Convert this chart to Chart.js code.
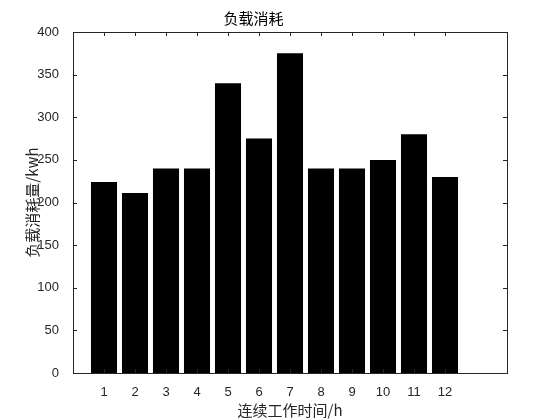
<!DOCTYPE html>
<html>
<head>
<meta charset="utf-8">
<script src="https://cdn.jsdelivr.net/npm/chart.js@4/dist/chart.umd.min.js"></script>
<style>
  html, body { margin: 0; padding: 0; background: #fff; }
  #wrap { width: 560px; height: 420px; }
</style>
</head>
<body>
<div id="wrap"><canvas id="myChart"></canvas></div>
<script>
// Data
const hours = [1, 2, 3, 4, 5, 6, 7, 8, 9, 10, 11, 12];
const load = [224, 211, 240, 240, 340, 275, 375, 240, 240, 250, 280, 230];
const yTicks = [0, 50, 100, 150, 200, 250, 300, 350, 400];

const axisColor = "#262626";
const cjk = "'Noto Sans CJK SC', 'Liberation Sans', sans-serif";
const latin = "'Liberation Sans', Arial, sans-serif";

// plot box with inward ticks, MATLAB style
const boxPlugin = {
  id: "box",
  afterDraw(chart) {
    const { ctx, chartArea: a, scales } = chart;
    const len = 4;
    ctx.save();
    ctx.strokeStyle = axisColor;
    ctx.lineWidth = 1;
    ctx.strokeRect(Math.round(a.left) + 0.5, Math.round(a.top) + 0.5,
      Math.round(a.right - a.left), Math.round(a.bottom - a.top));
    ctx.beginPath();
    hours.forEach(h => {
      const x = Math.round(scales.x.getPixelForValue(h)) + 0.5;
      ctx.moveTo(x, a.bottom); ctx.lineTo(x, a.bottom - len);
      ctx.moveTo(x, a.top); ctx.lineTo(x, a.top + len);
    });
    yTicks.forEach(v => {
      const y = Math.round(scales.y.getPixelForValue(v)) + 0.5;
      ctx.moveTo(a.left, y); ctx.lineTo(a.left + len, y);
      ctx.moveTo(a.right, y); ctx.lineTo(a.right - len, y);
    });
    ctx.stroke();
    ctx.restore();
  }
};

const config = {
  type: "bar",
  data: {
    datasets: [{
      label: "负载消耗",
      data: hours.map((h, i) => ({ x: h, y: load[i] })),
      backgroundColor: "#000000",
      borderWidth: 0,
      barPercentage: 0.84,
      categoryPercentage: 1
    }]
  },
  options: {
    responsive: true,
    maintainAspectRatio: false,
    animation: false,
    layout: { padding: { left: 0, right: 53, top: 0, bottom: 0 } },
    plugins: {
      legend: { display: false },
      tooltip: { enabled: false },
      title: {
        display: true,
        text: "负载消耗",
        color: "#000",
        font: { family: cjk, size: 15, weight: "normal", lineHeight: 1.2 },
        padding: { top: 9, bottom: 5 }
      }
    },
    scales: {
      x: {
        type: "linear",
        min: 0,
        max: 14,
        offset: false,
        grid: { display: false, offset: false },
        border: { display: false },
        ticks: {
          stepSize: 1,
          autoSkip: false,
          maxRotation: 0,
          padding: 4,
          color: axisColor,
          font: { family: latin, size: 13 },
          callback: v => (hours.includes(v) ? String(v) : "")
        },
        title: {
          display: true,
          text: "连续工作时间/h",
          color: axisColor,
          font: { family: cjk, size: 15, lineHeight: 1.2 },
          padding: { top: 0, bottom: 1 }
        },
        afterFit: s => { s.height = 47; }
      },
      y: {
        min: 0,
        max: 400,
        grid: { display: false },
        border: { display: false },
        afterBuildTicks: s => { s.ticks = yTicks.map(v => ({ value: v })); },
        ticks: {
          padding: 6,
          color: axisColor,
          font: { family: latin, size: 13 }
        },
        title: {
          display: true,
          text: "负载消耗量/kwh",
          color: axisColor,
          font: { family: cjk, size: 15, lineHeight: 1.2 },
          padding: { top: 23, bottom: 0 }
        },
        afterFit: s => { s.width = 73; }
      }
    }
  },
  plugins: [boxPlugin]
};

// Create chart
const ctx = document.getElementById("myChart").getContext("2d");
const myChart = new Chart(ctx, config);
</script>
</body>
</html>
